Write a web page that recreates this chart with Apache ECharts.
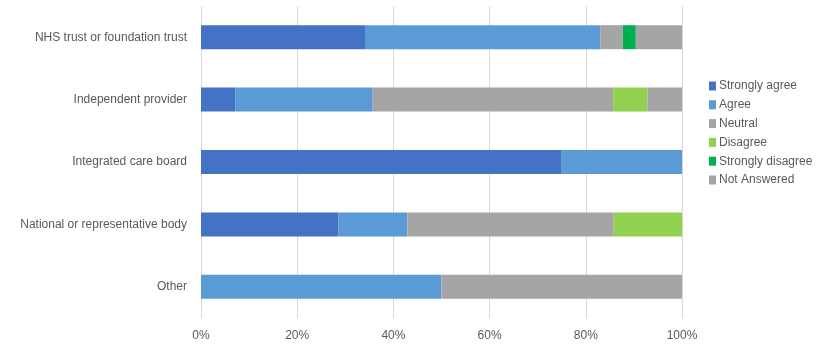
<!DOCTYPE html>
<html><head><meta charset="utf-8">
<script src="https://cdn.jsdelivr.net/npm/echarts@6/dist/echarts.min.js"></script>
<style>html,body{margin:0;padding:0;background:#fff}#c{width:826px;height:364px}</style>
</head><body><div id="c"></div>
<script>
const categories = ["NHS trust or foundation trust","Independent provider","Integrated care board","National or representative body","Other"];
const seriesNames = ["Strongly agree","Agree","Neutral","Disagree","Strongly disagree","Not Answered"];
const stronglyAgree = [34.1, 7.1, 75, 28.6, 0];
const agree = [48.9, 28.6, 25, 14.3, 50];
const neutral = [4.7, 50, 0, 42.9, 50];
const disagree = [0, 7.1, 0, 14.2, 0];
const stronglyDisagree = [2.7, 0, 0, 0, 0];
const notAnswered = [9.6, 7.2, 0, 0, 0];
const xTicks = [0, 20, 40, 60, 80, 100];
const colors = ["#4472C4","#5B9BD5","#A5A5A5","#92D050","#00B050","#A5A5A5"];
const values = [stronglyAgree, agree, neutral, disagree, stronglyDisagree, notAnswered];
const font = "'Liberation Sans', Arial, sans-serif";
const chart = echarts.init(document.getElementById('c'));
chart.setOption({
  animation:false,
  color: colors,
  grid:{left:201,right:144,top:6,bottom:46,containLabel:false},
  legend:{orient:'vertical',left:704,top:75,itemWidth:7,itemHeight:9,itemGap:6.8,
    icon:'rect',textStyle:{fontFamily:font,fontSize:12,color:'#595959',padding:[0,0,0,-2]},data:seriesNames},
  xAxis:{type:'value',min:xTicks[0],max:xTicks[xTicks.length-1],interval:20,
    axisLine:{show:false},axisTick:{show:false},
    splitLine:{show:true,lineStyle:{color:'#D9D9D9',width:1}},
    axisLabel:{formatter:'{value}%',fontFamily:font,fontSize:12,color:'#595959',margin:12}},
  yAxis:{type:'category',data:categories,inverse:true,
    axisLine:{show:false},axisTick:{show:false},
    axisLabel:{fontFamily:font,fontSize:12,color:'#595959',margin:14}},
  series: seriesNames.map((n,i)=>({name:n,type:'bar',stack:'t',barWidth:24,data:values[i]}))
});
</script></body></html>
